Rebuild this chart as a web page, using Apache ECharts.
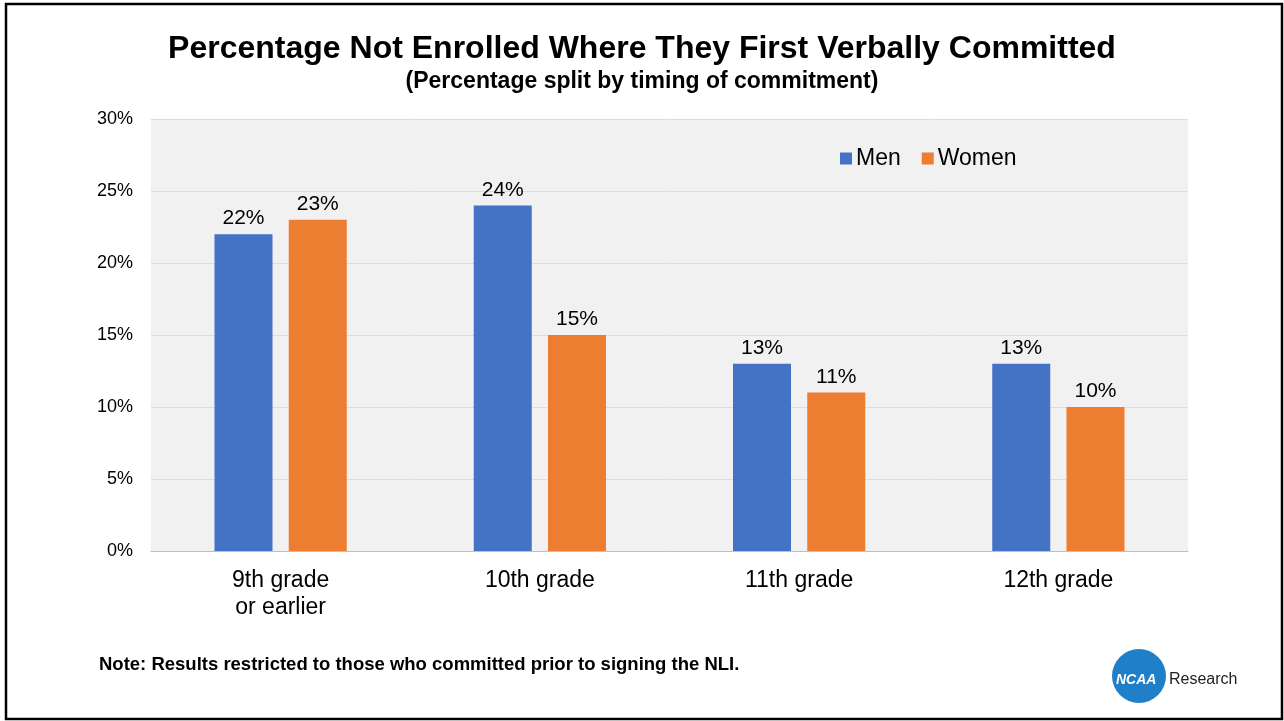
<!DOCTYPE html>
<html><head><meta charset="utf-8">
<script src="https://cdn.jsdelivr.net/npm/echarts@6/dist/echarts.min.js"></script>
<style>html,body{margin:0;padding:0;background:#fff}#c{width:1284px;height:721px}</style>
</head><body><div id="c"></div>
<script>
const categories = ['9th grade\nor earlier', '10th grade', '11th grade', '12th grade'];
const men = [22, 24, 13, 13];
const women = [23, 15, 11, 10];
const yTicks = [0, 5, 10, 15, 20, 25, 30];
const F = '"Liberation Sans", Arial, sans-serif';
const chart = echarts.init(document.getElementById('c'));
chart.setOption({
  backgroundColor: '#fff',
  animation: false,
  title: [
    {text: 'Percentage Not Enrolled Where They First Verbally Committed', left: 'center', top: 28,
     textStyle: {fontFamily: F, fontSize: 32, fontWeight: 'bold', color: '#000'}},
    {text: '(Percentage split by timing of commitment)', left: 'center', top: 65,
     textStyle: {fontFamily: F, fontSize: 23, fontWeight: 'bold', color: '#000'}}
  ],
  legend: {
    data: ['Men', 'Women'], left: 835, top: 142, itemWidth: 12, itemHeight: 12, itemGap: 21,
    icon: 'rect', textStyle: {fontFamily: F, fontSize: 23, color: '#000', padding: [0,0,0,-1]}
  },
  grid: {left: 151, right: 96, top: 119, bottom: 170, backgroundColor: '#f1f1f1', show: true, borderWidth: 0},
  xAxis: {
    type: 'category', data: categories,
    axisLine: {lineStyle: {color: '#bfbfbf', width: 1}}, axisTick: {show: false},
    axisLabel: {fontFamily: F, fontSize: 23, color: '#000', margin: 16, lineHeight: 27}
  },
  yAxis: {
    type: 'value', min: 0, max: 30, interval: 5,
    axisLabel: {fontFamily: F, fontSize: 18, color: '#000', margin: 18,
      formatter: v => yTicks.includes(v) ? v + '%' : ''},
    splitLine: {lineStyle: {color: '#dcdcdc', width: 1}},
    axisLine: {show: false}, axisTick: {show: false}
  },
  series: [
    {name: 'Men', type: 'bar', data: men, barWidth: 58, barGap: '28%', itemStyle: {color: '#4472c4'},
     label: {show: true, position: 'top', formatter: '{c}%', fontFamily: F, fontSize: 21, color: '#000', distance: 5}},
    {name: 'Women', type: 'bar', data: women, barWidth: 58, itemStyle: {color: '#ed7d31'},
     label: {show: true, position: 'top', formatter: '{c}%', fontFamily: F, fontSize: 21, color: '#000', distance: 5}}
  ],
  graphic: [
    {type: 'rect', shape: {x: 6, y: 4, width: 1276, height: 715}, style: {fill: 'none', stroke: '#000', lineWidth: 2.5}},
    {type: 'text', left: 99, top: 655, style: {text: 'Note: Results restricted to those who committed prior to signing the NLI.',
      font: 'bold 18.5px ' + F, fill: '#000'}},
    {type: 'circle', shape: {cx: 1139, cy: 676, r: 27}, style: {fill: '#1f7fc9'}},
    {type: 'text', left: 1116, top: 673, style: {text: 'NCAA', font: 'italic bold 14px ' + F, fill: '#fff'}},
    {type: 'text', left: 1169, top: 672, style: {text: 'Research', font: '16px ' + F, fill: '#222'}}
  ]
});
</script></body></html>
